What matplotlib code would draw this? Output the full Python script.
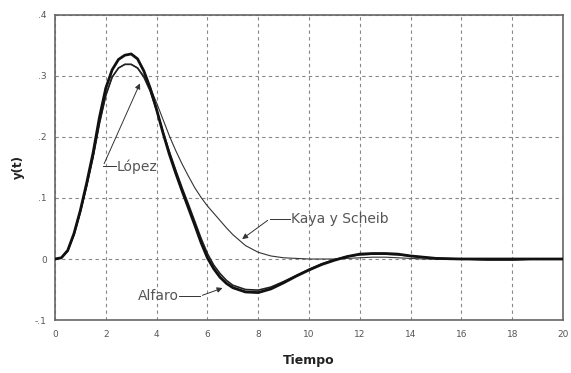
import numpy as np
import matplotlib
matplotlib.use("Agg")
import matplotlib.pyplot as plt

t = [0, 0.25, 0.5, 0.75, 1.0, 1.25, 1.5, 1.75, 2.0, 2.25, 2.5, 2.75, 3.0, 3.25, 3.5,
     3.75, 4.0, 4.25, 4.5, 4.75, 5.0, 5.25, 5.5, 5.75, 6.0, 6.25, 6.5, 6.75, 7.0, 7.5,
     8.0, 8.5, 9.0, 9.5, 10, 10.5, 11, 11.5, 12, 12.5, 13, 13.5, 14, 14.5, 15, 16,
     17, 18, 19, 20]

alfaro = [0, 0.002, 0.014, 0.042, 0.08, 0.125, 0.174, 0.232, 0.28, 0.31, 0.327, 0.334,
          0.336, 0.328, 0.308, 0.28, 0.245, 0.207, 0.172, 0.141, 0.112, 0.084, 0.056, 0.027,
          0.002, -0.016, -0.03, -0.04, -0.047, -0.054, -0.055, -0.049, -0.039, -0.028,
          -0.018, -0.009, -0.002, 0.004, 0.008, 0.009, 0.009, 0.008, 0.005, 0.003, 0.001,
          0, 0, 0, 0, 0]

lopez = [0, 0.002, 0.013, 0.04, 0.077, 0.12, 0.167, 0.222, 0.268, 0.298, 0.313, 0.319,
         0.319, 0.313, 0.298, 0.275, 0.244, 0.209, 0.176, 0.146, 0.117, 0.09, 0.062, 0.034,
         0.009, -0.01, -0.024, -0.035, -0.043, -0.05, -0.051, -0.046, -0.037, -0.027,
         -0.017, -0.008, -0.001, 0.004, 0.007, 0.008, 0.008, 0.007, 0.005, 0.003, 0.001,
         0, -0.001, -0.001, 0, 0]

kaya = [0, 0.002, 0.013, 0.04, 0.077, 0.12, 0.167, 0.222, 0.268, 0.298, 0.313, 0.319,
        0.319, 0.313, 0.3, 0.281, 0.256, 0.229, 0.202, 0.178, 0.156, 0.136, 0.117, 0.101,
        0.087, 0.075, 0.063, 0.051, 0.04, 0.022, 0.011, 0.005, 0.002, 0.001, 0, 0, 0,
        0.001, 0.002, 0.003, 0.003, 0.002, 0.001, 0, 0, 0, -0.002, -0.002, 0, 0]

xticks = [0, 2, 4, 6, 8, 10, 12, 14, 16, 18, 20]
yticks = [-0.1, 0, 0.1, 0.2, 0.3, 0.4]
yticklabels = ["-.1", "0", ".1", ".2", ".3", ".4"]

fig = plt.figure(figsize=(5.71, 3.73), dpi=100)
ax = fig.add_axes([0.0963, 0.142, 0.8897, 0.818])

ax.plot(t, kaya, color="#333333", lw=0.8, zorder=3)
ax.plot(t, lopez, color="#222222", lw=1.2, zorder=4)
ax.plot(t, alfaro, color="#111111", lw=2.0, zorder=5)

ax.set_xlim(0, 20)
ax.set_ylim(-0.1, 0.4)
ax.set_xticks(xticks)
ax.set_xticklabels([str(v) for v in xticks])
ax.set_yticks(yticks)
ax.set_yticklabels(yticklabels)
ax.tick_params(axis="both", length=0, labelsize=6.5, colors="#555555", pad=7)
ax.tick_params(axis="y", pad=6)

ax.grid(True, color="#888888", lw=0.8, linestyle=(0, (3, 3)))
for s in ax.spines.values():
    s.set_color("#666666")
    s.set_linewidth(1.2)

ax.set_xlabel("Tiempo", fontsize=9, fontweight="bold", color="#222222", labelpad=11)
ax.set_ylabel("y(t)", fontsize=8.5, fontweight="bold", color="#222222", labelpad=7)

arrow_kw = dict(arrowstyle="-|>", color="#333333", lw=0.7, mutation_scale=8)
txt_kw = dict(fontsize=10, color="#555555", va="center")

# López
ax.plot([1.89, 2.4], [0.152, 0.152], color="#333333", lw=0.7)
ax.annotate("", xy=(3.39, 0.292), xytext=(1.89, 0.152), arrowprops=arrow_kw)
ax.text(2.42, 0.152, "López", ha="left", **txt_kw)

# Kaya y Scheib
ax.plot([8.46, 9.25], [0.066, 0.066], color="#333333", lw=0.7)
ax.annotate("", xy=(7.28, 0.03), xytext=(8.46, 0.066), arrowprops=arrow_kw)
ax.text(9.28, 0.066, "Kaya y Scheib", ha="left", **txt_kw)

# Alfaro
ax.plot([4.9, 5.7], [-0.061, -0.061], color="#333333", lw=0.7)
ax.annotate("", xy=(6.7, -0.046), xytext=(5.7, -0.061), arrowprops=arrow_kw)
ax.text(4.87, -0.061, "Alfaro", ha="right", **txt_kw)

fig.savefig("out.png", dpi=100)
